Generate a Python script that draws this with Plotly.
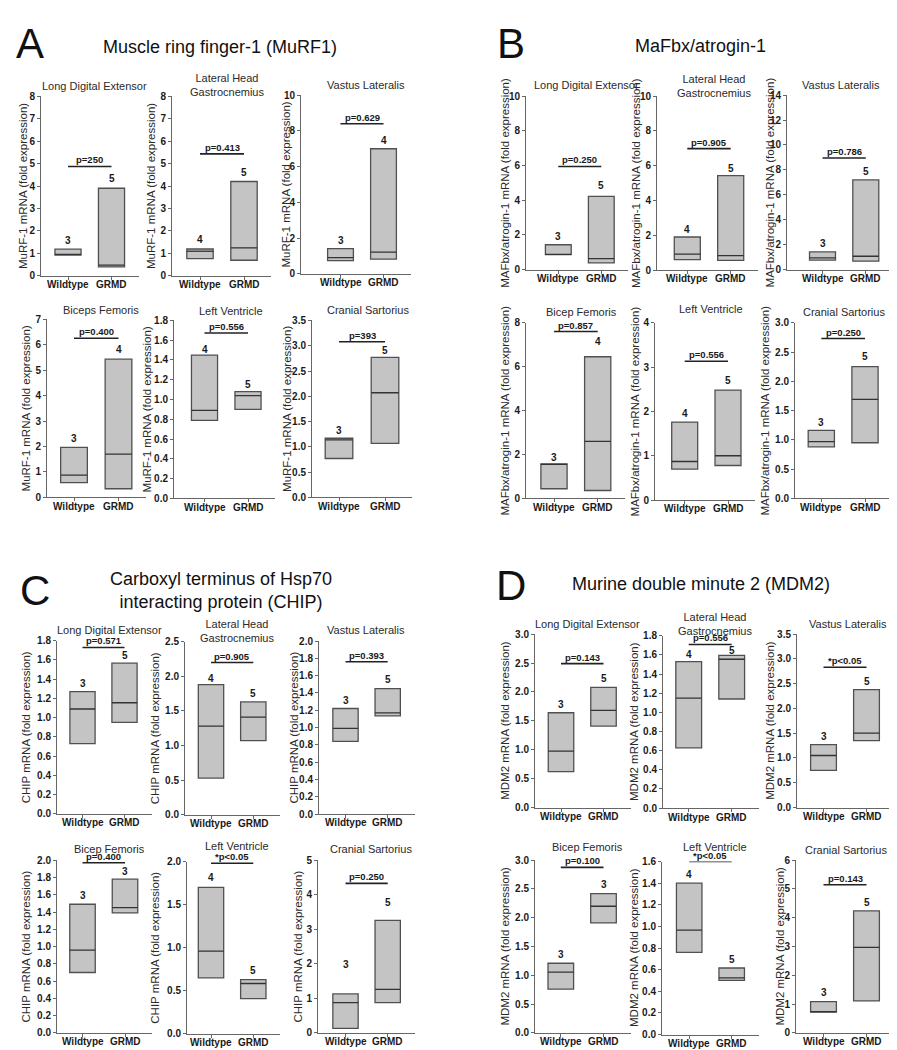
import plotly.graph_objects as go

W, H = 897, 1050
FONT = "Liberation Sans, Arial, sans-serif"
GROUPS = ["Wildtype", "GRMD"]

# ---------------- Panel A : MuRF1 ----------------
A_title = "Muscle ring finger-1 (MuRF1)"
A_ylabel = "MuRF-1 mRNA (fold expression)"
A_muscles = ["Long Digital Extensor", "Lateral Head<br>Gastrocnemius", "Vastus Lateralis",
             "Biceps Femoris", "Left Ventricle", "Cranial Sartorius"]
A_ymax = [8, 8, 10, 7, 1.8, 3.5]
A_dtick = [1, 1, 2, 1, 0.2, 0.5]
A_wt_min = [0.93, 0.77, 0.75, 0.58, 0.79, 0.77]
A_wt_med = [0.96, 1.10, 0.92, 0.88, 0.89, 1.14]
A_wt_max = [1.19, 1.20, 1.42, 1.97, 1.45, 1.17]
A_gr_min = [0.40, 0.70, 0.83, 0.34, 0.90, 1.07]
A_gr_med = [0.48, 1.25, 1.22, 1.70, 1.04, 2.07]
A_gr_max = [3.90, 4.20, 7.00, 5.44, 1.08, 2.77]
A_n_wt = [3, 4, 3, 3, 4, 3]
A_n_gr = [5, 5, 4, 4, 5, 5]
A_n_wt_y = [1.57, 1.64, 1.87, 2.30, 1.51, 1.32]
A_n_gr_y = [4.33, 4.62, 7.47, 5.80, 1.15, 2.91]
A_p_text = ["p=250", "p=0.413", "p=0.629", "p=0.400", "p=0.556", "p=393"]
A_p_y = [4.87, 5.43, 8.40, 6.26, 1.673, 3.08]

# ---------------- Panel B : MaFbx ----------------
B_title = "MaFbx/atrogin-1"
B_ylabel = "MAFbx/atrogin-1 mRNA (fold expression)"
B_muscles = ["Long Digital Extensor", "Lateral Head<br>Gastrocnemius", "Vastus Lateralis",
             "Bicep Femoris", "Left Ventricle", "Cranial Sartorius"]
B_ymax = [10, 10, 14, 8, 4, 3.0]
B_dtick = [2, 2, 2, 2, 1, 0.5]
B_wt_min = [0.86, 0.60, 0.77, 0.44, 0.70, 0.88]
B_wt_med = [0.88, 0.92, 0.95, 1.55, 0.87, 0.97]
B_wt_max = [1.43, 1.90, 1.43, 1.57, 1.76, 1.16]
B_gr_min = [0.38, 0.55, 0.69, 0.36, 0.78, 0.95]
B_gr_med = [0.63, 0.83, 1.08, 2.60, 1.00, 1.69]
B_gr_max = [4.22, 5.43, 7.20, 6.45, 2.48, 2.25]
B_n_wt = [3, 4, 3, 3, 4, 3]
B_n_gr = [5, 5, 5, 4, 5, 5]
B_n_wt_y = [1.89, 2.32, 2.09, 1.88, 1.95, 1.30]
B_n_gr_y = [4.86, 5.84, 7.87, 7.13, 2.70, 2.42]
B_p_text = ["p=0.250", "p=0.905", "p=0.786", "p=0.857", "p=0.556", "p=0.250"]
B_p_y = [5.94, 6.98, 8.95, 7.60, 3.13, 2.73]

# ---------------- Panel C : CHIP ----------------
C_title = "Carboxyl terminus of Hsp70<br>interacting protein (CHIP)"
C_ylabel = "CHIP mRNA (fold expression)"
C_muscles = ["Long Digital Extensor", "Lateral Head<br>Gastrocnemius", "Vastus Lateralis",
             "Bicep Femoris", "Left Ventricle", "Cranial Sartorius"]
C_ymax = [1.8, 2.5, 2.0, 2.0, 2.0, 5]
C_dtick = [0.2, 0.5, 0.2, 0.2, 0.5, 1]
C_wt_min = [0.73, 0.53, 0.84, 0.70, 0.65, 0.13]
C_wt_med = [1.09, 1.28, 0.99, 0.96, 0.96, 0.88]
C_wt_max = [1.27, 1.88, 1.22, 1.49, 1.70, 1.13]
C_gr_min = [0.95, 1.07, 1.135, 1.39, 0.41, 0.88]
C_gr_med = [1.155, 1.41, 1.17, 1.45, 0.585, 1.26]
C_gr_max = [1.567, 1.63, 1.45, 1.78, 0.63, 3.26]
C_n_wt = [3, 4, 3, 3, 4, 3]
C_n_gr = [5, 5, 5, 3, 5, 5]
C_n_wt_y = [1.36, 1.97, 1.31, 1.59, 1.815, 1.98]
C_n_gr_y = [1.65, 1.75, 1.55, 1.87, 0.73, 3.77]
C_p_text = ["p=0.571", "p=0.905", "p=0.393", "p=0.400", "*p<0.05", "p=0.250"]
C_p_y = [1.73, 2.20, 1.76, 1.97, 1.98, 4.33]

# ---------------- Panel D : MDM2 ----------------
D_title = "Murine double minute 2 (MDM2)"
D_ylabel = "MDM2 mRNA (fold expression)"
D_muscles = ["Long Digital Extensor", "Lateral Head<br>Gastrocnemius", "Vastus Lateralis",
             "Bicep Femoris", "Left Ventricle", "Cranial Sartorius"]
D_ymax = [3.0, 1.8, 3.5, 3.0, 1.6, 6]
D_dtick = [0.5, 0.2, 0.5, 0.5, 0.2, 1]
D_wt_min = [0.62, 0.63, 0.75, 0.76, 0.76, 0.72]
D_wt_med = [0.975, 1.15, 1.05, 1.055, 0.965, 0.74]
D_wt_max = [1.64, 1.53, 1.27, 1.21, 1.40, 1.09]
D_gr_min = [1.41, 1.14, 1.35, 1.91, 0.50, 1.11]
D_gr_med = [1.68, 1.555, 1.50, 2.20, 0.524, 2.97]
D_gr_max = [2.08, 1.596, 2.38, 2.42, 0.615, 4.24]
D_n_wt = [3, 4, 3, 3, 4, 3]
D_n_gr = [5, 5, 5, 3, 5, 5]
D_n_wt_y = [1.79, 1.60, 1.44, 1.37, 1.48, 1.42]
D_n_gr_y = [2.23, 1.65, 2.55, 2.58, 0.69, 4.53]
D_p_text = ["p=0.143", "p=0.556", "*p<0.05", "p=0.100", "*p<0.05", "p=0.143"]
D_p_y = [2.49, 1.71, 2.83, 2.875, 1.60, 5.15]

# ---------------- layout geometry (pixels) ----------------
GEOM = {
    "A": dict(left=[33, 164, 293, 39, 166, 304], c0=[60, 192, 332.5, 66, 196.5, 331],
              c1=[103.5, 236, 375.5, 110.5, 240, 377], top=[83, 83, 82, 309, 310, 310],
              bot=[265, 265, 263, 489, 490, 489], ytx=[15, 143, 278, 18, 139, 279],
              ttx=[86, 219, 358, 93, 223, 360], tty=[73, 72, 72, 299, 300, 299],
              letter=(22, 30), title=(212, 33)),
    "B": dict(left=[518, 649, 779, 518, 647, 787], c0=[550.3, 679.3, 814.5, 546, 676.7, 813.3],
              c1=[593.3, 722.7, 857.8, 589.7, 720, 857], top=[83, 83, 82, 312.3, 312.3, 312.3],
              bot=[258.5, 259, 258.7, 490, 491.7, 490], ytx=[497, 628, 762, 497, 627, 757],
              ttx=[578, 706, 833, 573, 703, 836], tty=[72, 72.5, 72, 301, 298, 301],
              letter=(503, 30), title=(692, 32)),
    "C": dict(left=[49, 177, 311, 49, 179, 310], c0=[74.5, 203, 337.5, 74.5, 203, 337.5],
              c1=[116.5, 245.3, 379.7, 117, 245.3, 379.7], top=[634, 635, 634.3, 856, 857.3, 856],
              bot=[809, 810, 809.3, 1030.7, 1031.7, 1030.7], ytx=[18, 147, 286, 18, 147, 290],
              ttx=[101, 229, 358, 101, 229, 363], tty=[623, 624, 623, 845, 842, 845],
              letter=(27, 583), title=(213, 583)),
    "D": dict(left=[527, 655, 789, 527, 654, 788], c0=[553, 680.7, 815.5, 552.8, 681.2, 815.5],
              c1=[595.5, 723.7, 858.5, 595.5, 723.7, 858.5], top=[627.3, 629, 627.3, 856, 857.3, 856],
              bot=[802.7, 803.3, 802.7, 1030.7, 1032.3, 1030.7], ytx=[497, 626, 762, 497, 626, 772],
              ttx=[579, 707, 840, 579, 707, 838], tty=[617, 617, 617, 843, 843, 846],
              letter=(503, 578), title=(693, 577)),
}

PANELS = [
    ("A", A_title, A_ylabel, A_muscles, A_ymax, A_dtick, A_wt_min, A_wt_med, A_wt_max,
     A_gr_min, A_gr_med, A_gr_max, A_n_wt, A_n_gr, A_n_wt_y, A_n_gr_y, A_p_text, A_p_y),
    ("B", B_title, B_ylabel, B_muscles, B_ymax, B_dtick, B_wt_min, B_wt_med, B_wt_max,
     B_gr_min, B_gr_med, B_gr_max, B_n_wt, B_n_gr, B_n_wt_y, B_n_gr_y, B_p_text, B_p_y),
    ("C", C_title, C_ylabel, C_muscles, C_ymax, C_dtick, C_wt_min, C_wt_med, C_wt_max,
     C_gr_min, C_gr_med, C_gr_max, C_n_wt, C_n_gr, C_n_wt_y, C_n_gr_y, C_p_text, C_p_y),
    ("D", D_title, D_ylabel, D_muscles, D_ymax, D_dtick, D_wt_min, D_wt_med, D_wt_max,
     D_gr_min, D_gr_med, D_gr_max, D_n_wt, D_n_gr, D_n_wt_y, D_n_gr_y, D_p_text, D_p_y),
]

BOX_FILL = "#c4c4c4"
BOX_LINE = "#505050"
MED_LINE = "#333333"
AX_LINE = "#666666"
TXT = "#1a1a1a"
HALF = 0.3


def px_x(p):
    return p / W


def px_y(p):
    return 1 - p / H


def note(text, x, y, size, color="#2a2a2a", xref="paper", yref="paper", **kw):
    d = dict(text=text, x=x, y=y, xref=xref, yref=yref, showarrow=False,
             xanchor="center", yanchor="middle",
             font=dict(family=FONT, size=size, color=color))
    d.update(kw)
    return d


fig = go.Figure()
annotations = []
layout_axes = {}
k = 0
for (letter, title, ylabel, muscles, ymax, dtick, wmin, wmed, wmax, gmin, gmed, gmax,
     nw, ng, nwy, ngy, ptxt, py) in PANELS:
    g = GEOM[letter]
    annotations.append(note(letter, px_x(g["letter"][0]), px_y(g["letter"][1]), 42, "#111"))
    annotations.append(note(title, px_x(g["title"][0]), px_y(g["title"][1]), 18, "#111"))
    for i in range(6):
        k += 1
        xa = "x" if k == 1 else f"x{k}"
        ya = "y" if k == 1 else f"y{k}"
        unit = g["c1"][i] - g["c0"][i]
        right = g["c1"][i] + 27
        xlo = (g["left"][i] - g["c0"][i]) / unit
        xhi = (right - g["c0"][i]) / unit
        fmt = ".1f" if dtick[i] < 1 else "d"
        nt = int(round(ymax[i] / dtick[i]))
        tv = [round(j * dtick[i], 4) for j in range(nt + 1)]
        layout_axes["xaxis" if k == 1 else f"xaxis{k}"] = dict(
            domain=[px_x(g["left"][i]), px_x(right)], range=[xlo, xhi], anchor=ya,
            tickvals=[0, 1], showticklabels=False, showline=True, linecolor=AX_LINE,
            linewidth=1, ticks="outside", ticklen=3, tickcolor=AX_LINE, showgrid=False,
            zeroline=False, fixedrange=True)
        layout_axes["yaxis" if k == 1 else f"yaxis{k}"] = dict(
            domain=[px_y(g["bot"][i]), px_y(g["top"][i])], range=[0, ymax[i]], anchor=xa,
            tickvals=tv, tickformat=fmt, showline=True, linecolor=AX_LINE, linewidth=1,
            ticks="outside", ticklen=3, tickcolor=AX_LINE, showgrid=False, zeroline=False,
            tickfont=dict(family=FONT, size=10, color=TXT, weight="bold"), fixedrange=True)
        # floating boxes min..max
        fig.add_trace(go.Bar(x=[0, 1], y=[wmax[i] - wmin[i], gmax[i] - gmin[i]],
                             base=[wmin[i], gmin[i]], width=2 * HALF, xaxis=xa, yaxis=ya,
                             marker=dict(color=BOX_FILL, line=dict(color=BOX_LINE, width=1.3)),
                             showlegend=False, hoverinfo="skip"))
        # medians
        fig.add_trace(go.Scatter(x=[-HALF, HALF, None, 1 - HALF, 1 + HALF],
                                 y=[wmed[i], wmed[i], None, gmed[i], gmed[i]],
                                 mode="lines", line=dict(color=MED_LINE, width=1.3),
                                 xaxis=xa, yaxis=ya, showlegend=False, hoverinfo="skip"))
        # p-value bar
        fig.add_trace(go.Scatter(x=[0, 1], y=[py[i], py[i]], mode="lines",
                                 line=dict(color="#222", width=1.6),
                                 xaxis=xa, yaxis=ya, showlegend=False, hoverinfo="skip"))
        annotations.append(note(f"<b>{ptxt[i]}</b>", 0.5, py[i], 9.5, TXT, xa, ya,
                                yanchor="bottom", yshift=-1))
        annotations.append(note(f"<b>{nw[i]}</b>", 0, nwy[i], 10, TXT, xa, ya))
        annotations.append(note(f"<b>{ng[i]}</b>", 1, ngy[i], 10, TXT, xa, ya))
        # group labels under x axis
        for j, grp in enumerate(GROUPS):
            annotations.append(note(f"<b>{grp}</b>", j, px_y(g["bot"][i] + 9), 10, TXT,
                                    xa, "paper"))
        # subplot title
        annotations.append(note(muscles[i], px_x(g["ttx"][i]), px_y(g["tty"][i]), 11))
        # y-axis title
        annotations.append(note(ylabel, px_x(g["ytx"][i]),
                                px_y((g["top"][i] + g["bot"][i]) / 2), 11.5, textangle=-90))

fig.update_layout(width=W, height=H, margin=dict(l=0, r=0, t=0, b=0),
                  paper_bgcolor="white", plot_bgcolor="white",
                  annotations=annotations, showlegend=False, **layout_axes)
fig.write_html("out.html")
